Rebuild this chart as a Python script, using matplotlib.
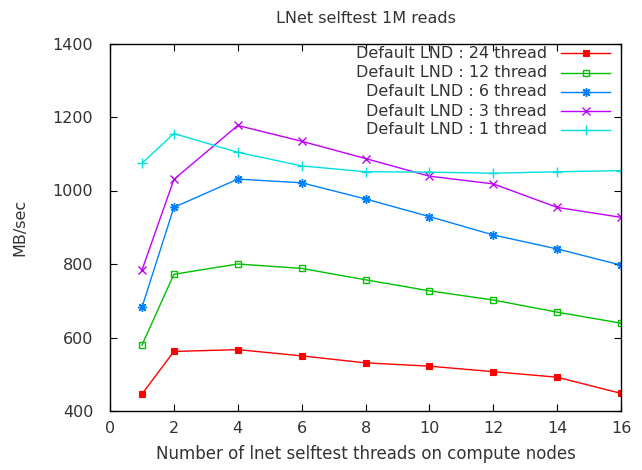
import matplotlib
matplotlib.use("Agg")
import matplotlib.pyplot as plt

threads = [1, 2, 4, 6, 8, 10, 12, 14, 16]
lnd24 = [446, 562, 567, 550, 531, 522, 507, 492, 448]
lnd12 = [579, 772, 800, 788, 757, 727, 702, 669, 639]
lnd6 = [682, 954, 1031, 1021, 977, 929, 879, 841, 797]
lnd3 = [783, 1030, 1177, 1134, 1087, 1039, 1018, 954, 927]
lnd1 = [1074, 1155, 1104, 1067, 1051, 1050, 1047, 1051, 1054]
labels = ["Default LND : 24 thread", "Default LND : 12 thread",
          "Default LND : 6 thread", "Default LND : 3 thread",
          "Default LND : 1 thread"]
xticks = [0, 2, 4, 6, 8, 10, 12, 14, 16]
yticks = [400, 600, 800, 1000, 1200, 1400]

plt.rcParams['font.family'] = ['DejaVu Sans']
txtc = '#333333'
fs = 11.5

fig = plt.figure(figsize=(6.42, 4.70), dpi=100)
ax = fig.add_axes([110/642, 1-411/470, (621-110)/642, (411-43.5)/470])

styles = [
    dict(color='#ff0000', marker='s', markersize=4.5, markerfacecolor='#ff0000', markeredgewidth=0.8),
    dict(color='#00c000', marker='s', markersize=4.5, markerfacecolor='none', markeredgewidth=1.0),
    dict(color='#0080ff', marker=(8, 2, 0), markersize=6.5, markeredgewidth=1.0),
    dict(color='#c000ff', marker='x', markersize=5.5, markeredgewidth=1.0),
    dict(color='#00e0e0', marker='+', markersize=6.5, markeredgewidth=1.0),
]
series = [lnd24, lnd12, lnd6, lnd3, lnd1]
for ys, st in zip(series, styles):
    ax.plot(threads, ys, linewidth=1.0, **st)

ax.set_xlim(0, 16)
ax.set_ylim(400, 1400)
ax.set_xticks(xticks)
ax.set_yticks(yticks)
ax.tick_params(direction='in', length=5, width=0.8, top=True, right=True,
               labelsize=fs, colors='#000000', labelcolor=txtc)
ax.tick_params(axis='x', pad=7)
ax.tick_params(axis='y', pad=12)
for s in ax.spines.values():
    s.set_linewidth(1.0)
    s.set_color('#000000')

ax.set_title("LNet selftest 1M reads", fontsize=fs, color=txtc, pad=15)
ax.set_xlabel("Number of lnet selftest threads on compute nodes", fontsize=12, color=txtc, labelpad=7)
ax.set_ylabel("MB/sec", fontsize=fs, color=txtc, labelpad=18.5)

# manual legend (gnuplot style: right-aligned text, sample on the right)
W, H = 621-110, 411-43.5
def ax_x(px):
    return (px-110)/W
def ax_y(py):
    return (411-py)/H
rows = [53.3, 72.5, 91.7, 111, 130]
for lab, st, ry in zip(labels, styles, rows):
    ax.text(ax_x(547), ax_y(ry), lab, ha='right', va='center', fontsize=fs,
            color=txtc, transform=ax.transAxes)
    ax.plot([ax_x(561), ax_x(610)], [ax_y(ry), ax_y(ry)], transform=ax.transAxes,
            linewidth=1.0, color=st['color'], clip_on=False)
    mst = dict(st)
    mst.pop('color')
    ax.plot([ax_x(585.5)], [ax_y(ry)], transform=ax.transAxes, linestyle='none',
            color=st['color'], clip_on=False, **mst)

fig.savefig("out.png", dpi=100)
